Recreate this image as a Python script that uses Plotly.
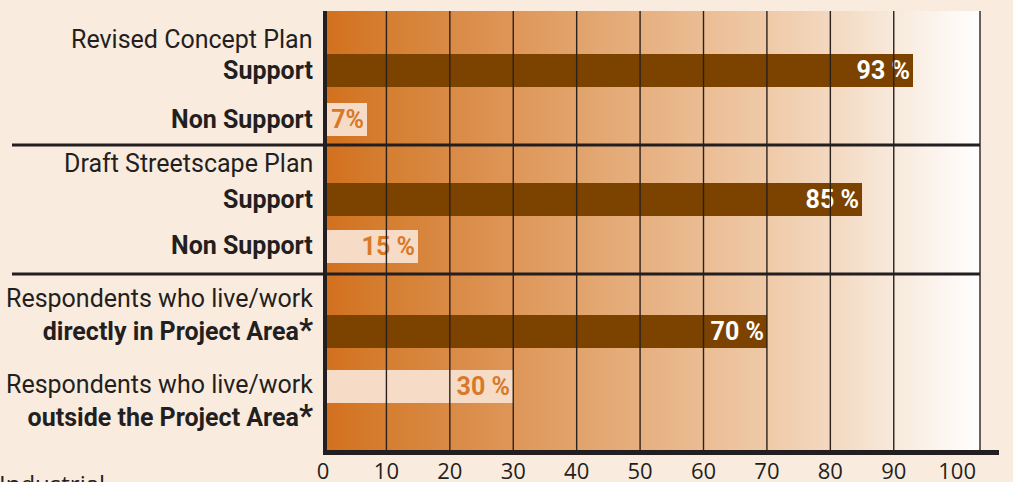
import base64
import struct
import zlib

import plotly.graph_objects as go

# ---------------- data ----------------
group_titles = ["Revised Concept Plan", "Draft Streetscape Plan"]
support_categories = ["Support", "Non Support"]
concept_values = [93, 7]
concept_labels = ["93 %", "7%"]
streetscape_values = [85, 15]
streetscape_labels = ["85 %", "15 %"]
respondent_lead = "Respondents who live/work"
respondent_categories = ["directly in Project Area", "outside the Project Area"]
respondent_values = [70, 30]
respondent_labels = ["70 %", "30 %"]
tick_values = [0, 10, 20, 30, 40, 50, 60, 70, 80, 90, 100]
tick_labels = ["0", "10", "20", "30", "40", "50", "60", "70", "80", "90", "100"]
footer_text = "Industrial"

# ---------------- style ----------------
W, H = 1013, 482
ML, MR, MT, MB = 323, 33, 11, 30
PAGE_BG = "#FAEBDF"
DARK_BAR = "#7C4300"
LIGHT_BAR = "#F6DCC6"
ORANGE_TXT = "#D8792A"
INK = "#231F20"
GRID = "#2B211C"
NARROW = "Roboto, DejaVu Sans Condensed, sans-serif"
TICKFONT = "Open Sans, Noto Sans, sans-serif"
LABEL_SIZE = 25
XMAX = 103.6

plot_w = W - ML - MR
plot_h = H - MT - MB


def py(px):
    """pixel row -> paper y"""
    return (H - MB - px) / plot_h


def pxx(px):
    """pixel column -> paper x"""
    return (px - ML) / plot_w


# background gradient (pixel column, colour)
grad_stops = [(323, "D2701D"), (385, "D57E31"), (448, "D98A45"), (511, "DE9658"),
              (575, "E2A36B"), (639, "E6AF7F"), (703, "EBBD94"), (767, "EFCAA8"),
              (830, "F3D8C0"), (897, "F8EADD"), (980, "FFFFFF")]


def hex2rgb(h):
    return tuple(int(h[i:i + 2], 16) for i in (0, 2, 4))


def gradient_png():
    row = []
    for px in range(ML, W - MR):
        for (a, ca), (b, cb) in zip(grad_stops[:-1], grad_stops[1:]):
            if a <= px <= b:
                t = (px - a) / (b - a)
                c1, c2 = hex2rgb(ca), hex2rgb(cb)
                row.append(tuple(round(c1[k] + (c2[k] - c1[k]) * t) for k in range(3)))
                break
    raw = b"".join(b"\x00" + bytes(v for p in row for v in p) for _ in range(2))

    def chunk(tag, data):
        return (struct.pack(">I", len(data)) + tag + data +
                struct.pack(">I", zlib.crc32(tag + data) & 0xFFFFFFFF))

    png = (b"\x89PNG\r\n\x1a\n" +
           chunk(b"IHDR", struct.pack(">IIBBBBB", len(row), 2, 8, 2, 0, 0, 0)) +
           chunk(b"IDAT", zlib.compress(raw)) + chunk(b"IEND", b""))
    return "data:image/png;base64," + base64.b64encode(png).decode()


# row layout in pixels: (top, bottom, centre of first bar, centre of second bar)
rows = [(11, 145, 70.5, 119), (145, 274, 199.5, 246), (274, 452, 331.5, 386)]
BAR_PX = 33

fig = go.Figure()

series = [
    (support_categories, concept_values, concept_labels),
    (support_categories, streetscape_values, streetscape_labels),
    (respondent_categories, respondent_values, respondent_labels),
]

layout_axes = {}
for i, ((cats, vals, labs), (top, bot, c1, c2)) in enumerate(zip(series, rows)):
    n = "" if i == 0 else str(i + 1)
    ppu = c2 - c1
    fig.add_trace(go.Bar(
        x=vals, y=cats, orientation="h",
        xaxis="x" + n, yaxis="y" + n,
        width=BAR_PX / ppu,
        marker=dict(color=[DARK_BAR, LIGHT_BAR], line=dict(width=0)),
        text=labs, textposition="inside", insidetextanchor="end",
        textangle=0, constraintext="none",
        textfont=dict(family=NARROW, size=LABEL_SIZE, weight="bold",
                      color=["white", ORANGE_TXT]),
        hoverinfo="skip", showlegend=False,
    ))
    yr = [-(bot - c2) / ppu, 1 + (c1 - top) / ppu]
    layout_axes["yaxis" + n] = dict(
        domain=[py(bot), py(top)], type="category",
        categoryorder="array", categoryarray=list(reversed(cats)),
        range=yr, showticklabels=False, showgrid=False, zeroline=False,
        anchor="x" + n, fixedrange=True, automargin=False,
    )
    layout_axes["xaxis" + n] = dict(
        range=[0, XMAX], anchor="y" + n, showgrid=False, zeroline=False,
        showticklabels=(i == 2), tickvals=tick_values, ticktext=tick_labels,
        tickfont=dict(family=TICKFONT, size=22, color=INK),
        ticks="", ticklabelstandoff=4, fixedrange=True, automargin=False,
    )

fig.update_layout(**layout_axes)

# ---------------- labels ----------------
ann = []
LX = pxx(315)
title_shifts = [31.5, 35.5]
for i, title in enumerate(group_titles):
    yref = "y" if i == 0 else "y2"
    ann.append(dict(text=title, x=LX, xref="paper", y="Support", yref=yref,
                    yshift=title_shifts[i],
                    xanchor="right", yanchor="middle", showarrow=False,
                    font=dict(family=NARROW, size=LABEL_SIZE, color=INK)))
    for cat in support_categories:
        ann.append(dict(text="<b>%s</b>" % cat, x=LX, xref="paper", y=cat,
                        yref=yref, xanchor="right", yanchor="middle",
                        showarrow=False,
                        font=dict(family=NARROW, size=LABEL_SIZE, color=INK)))

for cat, shift in zip(respondent_categories, [15.5, -16]):
    ann.append(dict(
        text=("%s<br><b>%s</b><b><span style='font-size:31px'>*</span></b>")
        % (respondent_lead, cat),
        x=LX, xref="paper", y=cat, yref="y3", yshift=shift,
        xanchor="right", yanchor="middle", align="right", showarrow=False,
        font=dict(family=NARROW, size=LABEL_SIZE, color=INK)))

ann.append(dict(text=footer_text, x=0, xref="paper", xanchor="left",
                y=py(465), yref="paper", yanchor="top", showarrow=False,
                xshift=-ML - 3, font=dict(family=TICKFONT, size=24, color=INK)))

# ---------------- frame / grid shapes ----------------
shapes = []
for tv in tick_values[1:-1]:
    shapes.append(dict(type="line", xref="x3", yref="paper", x0=tv, x1=tv,
                       y0=0, y1=1, layer="above",
                       line=dict(color=GRID, width=1.4)))
# right edge
shapes.append(dict(type="line", xref="paper", yref="paper", x0=1, x1=1,
                   y0=0, y1=1, layer="above", line=dict(color=GRID, width=1.4)))
# group separators
for top, _, _, _ in rows[1:]:
    shapes.append(dict(type="line", xref="paper", yref="paper",
                       x0=pxx(12), x1=1, y0=py(top), y1=py(top), layer="above",
                       line=dict(color=INK, width=3)))
# left axis
shapes.append(dict(type="line", xref="paper", yref="paper", x0=pxx(325),
                   x1=pxx(325), y0=py(455), y1=1, layer="above",
                   line=dict(color=INK, width=4)))
# bottom axis
shapes.append(dict(type="line", xref="paper", yref="paper", x0=pxx(323),
                   x1=pxx(999), y0=py(452.5), y1=py(452.5), layer="above",
                   line=dict(color=INK, width=5)))

fig.update_layout(
    width=W, height=H,
    margin=dict(l=ML, r=MR, t=MT, b=MB, pad=0, autoexpand=False),
    paper_bgcolor=PAGE_BG, plot_bgcolor="rgba(0,0,0,0)",
    bargap=0, annotations=ann, shapes=shapes,
    images=[dict(source=gradient_png(), xref="paper", yref="paper", x=0, y=1,
                 sizex=1, sizey=1, sizing="stretch", layer="below",
                 xanchor="left", yanchor="top")],
)

fig.write_html("out.html", config={"displayModeBar": False})
